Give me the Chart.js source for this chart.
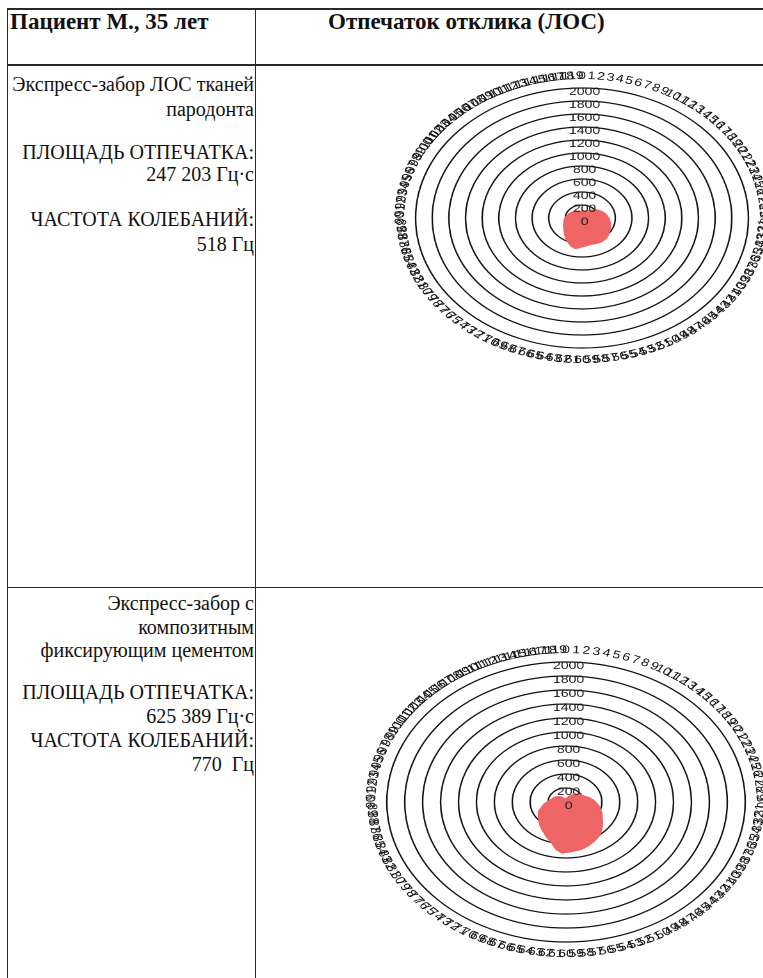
<!DOCTYPE html>
<html><head><meta charset="utf-8">
<script src="https://cdn.jsdelivr.net/npm/chart.js@4/dist/chart.umd.min.js"></script>
<style>
html,body{margin:0;padding:0;background:#fff;}
body{width:763px;height:978px;overflow:hidden;position:relative;font-family:"Liberation Serif","Times New Roman",serif;color:#111;}
.hl{position:absolute;background:#2a2a2a;height:1px;}
.vl{position:absolute;background:#2a2a2a;width:1px;}
.t{position:absolute;right:509px;font-size:20px;line-height:22px;white-space:pre;text-align:right;}
.h{position:absolute;font-weight:bold;font-size:23px;line-height:26px;white-space:pre;}
.wrap{position:absolute;transform:scaleX(1.28);transform-origin:50% 50%;}
</style></head>
<body>
<div class="hl" style="left:7px;top:8px;width:756px;height:2px;"></div>
<div class="hl" style="left:7px;top:64px;width:756px;height:2px;"></div>
<div class="hl" style="left:7px;top:587px;width:756px;"></div>
<div class="vl" style="left:7px;top:8px;height:970px;"></div>
<div class="vl" style="left:255px;top:8px;height:970px;"></div>

<div class="h" style="left:10px;top:9px;">Пациент М., 35 лет</div>
<div class="h" style="left:328px;top:9px;">Отпечаток отклика (ЛОС)</div>

<div class="t" style="top:73px;">Экспресс-забор ЛОС тканей</div>
<div class="t" style="top:98px;">пародонта</div>
<div class="t" style="top:141px;">ПЛОЩАДЬ ОТПЕЧАТКА:</div>
<div class="t" style="top:163px;">247 203 Гц·с</div>
<div class="t" style="top:208px;">ЧАСТОТА КОЛЕБАНИЙ:</div>
<div class="t" style="top:233px;">518 Гц</div>

<div class="t" style="top:592px;">Экспресс-забор с</div>
<div class="t" style="top:616px;">композитным</div>
<div class="t" style="top:639px;">фиксирующим цементом</div>
<div class="t" style="top:681px;">ПЛОЩАДЬ ОТПЕЧАТКА:</div>
<div class="t" style="top:705px;">625 389 Гц·с</div>
<div class="t" style="top:729px;">ЧАСТОТА КОЛЕБАНИЙ:</div>
<div class="t" style="top:753px;">770  Гц</div>

<div class="wrap" style="left:422px;top:58px;width:320px;height:320px;"><canvas id="c1" width="320" height="320" style="width:320px;height:320px;"></canvas></div>
<div class="wrap" style="left:396px;top:632px;width:340px;height:340px;"><canvas id="c2" width="340" height="340" style="width:340px;height:340px;"></canvas></div>

<script>
// categories: 120 angular positions
const categories = ["0","1","2","3","4","5","6","7","8","9","10","11","12","13","14","15","16","17","18","19",
"20","21","22","23","24","25","26","27","28","29","30","31","32","33","34","35","36","37","38","39",
"40","41","42","43","44","45","46","47","48","49","50","51","52","53","54","55","56","57","58","59",
"60","61","62","63","64","65","66","67","68","69","70","71","72","73","74","75","76","77","78","79",
"80","81","82","83","84","85","86","87","88","89","90","91","92","93","94","95","96","97","98","99",
"100","101","102","103","104","105","106","107","108","109","110","111","112","113","114","115","116","117","118","119"];

// radial tick labels
const tickValues = [0,200,400,600,800,1000,1200,1400,1600,1800,2000];

// patient sample 1: express sampling of periodontal tissue VOC
const series1 = [110,110,111,112,113,115,116,118,120,122,
125,132,140,152,164,175,188,202,215,225,
235,245,255,265,275,285,292,299,306,313,
320,327,334,341,348,355,361,367,373,379,
385,393,401,409,417,425,428,430,432,434,
435,433,430,426,422,420,422,428,434,440,
445,455,466,476,470,460,445,428,410,395,
380,362,345,330,314,300,290,280,270,262,
255,249,243,237,231,225,221,217,213,209,
205,200,195,190,185,180,176,172,168,164,
160,156,152,148,144,140,137,134,131,128,
125,122,119,117,114,112,111,110,110,110];

// patient sample 2: express sampling with composite fixing cement
const series2 = [50,52,55,58,63,70,77,85,93,101,
110,120,130,140,150,160,170,180,190,198,
205,210,215,228,244,260,274,288,302,316,
330,344,358,372,386,400,413,426,440,453,
466,484,503,522,541,560,582,603,615,628,
640,652,664,676,686,695,701,706,711,716,
720,731,712,690,650,610,585,563,541,520,
500,484,468,452,437,420,407,394,381,368,
355,346,337,318,299,280,268,256,242,228,
215,203,191,180,172,165,160,156,151,147,
142,136,129,123,116,110,103,96,89,82,
75,69,63,57,52,48,46,46,47,48];

const ringLabels = {
  id: 'ringLabels',
  afterDraw(chart) {
    const s = chart.scales.r, ctx = chart.ctx;
    ctx.save();
    ctx.textAlign = 'center';
    ctx.textBaseline = 'middle';
    // tick labels
    ctx.font = '11px "Liberation Sans", Arial, sans-serif';
    ctx.fillStyle = '#222';
    tickValues.forEach(v => {
      const d = s.getDistanceFromCenterForValue(v);
      ctx.fillText(String(v), s.xCenter + 2, s.yCenter - d + 4);
    });
    // angular labels, rotated along the circle
    ctx.fillStyle = '#111';
    ctx.font = '11px "Liberation Sans", Arial, sans-serif';
    chart.data.labels.forEach((lab, i) => {
      const a = s.getIndexAngle(i);
      const p = s.getPointPosition(i, s.drawingArea + 12);
      let rot = a;
      if (a > Math.PI / 2 + 1e-6 && a < Math.PI * 1.5 - 1e-6) rot = a - Math.PI;
      ctx.save();
      ctx.translate(p.x, p.y);
      ctx.rotate(rot);
      ctx.fillText(lab, 0, 0);
      ctx.restore();
    });
    ctx.restore();
  }
};

function make(id, data) {
  new Chart(document.getElementById(id), {
    type: 'radar',
    data: {
      labels: categories,
      datasets: [{
        data: data,
        fill: true,
        backgroundColor: '#ef6464',
        borderColor: '#ef6464',
        borderWidth: 1,
        pointRadius: 0,
        tension: 0.2
      }]
    },
    options: {
      responsive: false,
      animation: false,
      devicePixelRatio: 2,
      layout: { padding: 30 },
      plugins: { legend: { display: false }, tooltip: { enabled: false } },
      scales: {
        r: {
          z: 1,
          min: 0, max: 2000,
          ticks: { stepSize: 200, display: false },
          grid: { circular: true, color: '#111', lineWidth: 1.2 },
          angleLines: { display: false },
          pointLabels: { display: false }
        }
      }
    },
    plugins: [ringLabels]
  });
}
make('c1', series1);
make('c2', series2);
</script>
</body></html>
